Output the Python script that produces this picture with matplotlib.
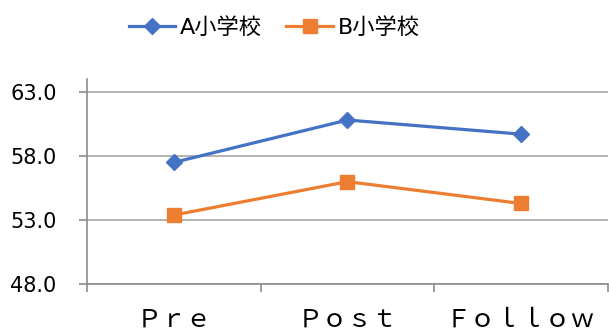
import matplotlib
matplotlib.use('Agg')
import matplotlib.pyplot as plt

plt.rcParams['font.family'] = ['Noto Sans CJK JP', 'DejaVu Sans']

# scores by phase for each school
phases = ['Ｐｒｅ', 'Ｐｏｓｔ', 'Ｆｏｌｌｏｗ']
school_a = [57.5, 60.8, 59.7]
school_b = [53.4, 56.0, 54.3]
y_ticks = [48.0, 53.0, 58.0, 63.0]

fig = plt.figure(figsize=(6.09, 3.33), dpi=100)
ax = fig.add_axes([0.143, 0.146, 0.855, 0.617])

x = list(range(len(phases)))
ax.plot(x, school_a, color='#4472C4', lw=2.3, marker='D', ms=8.5,
        label='A小学校', zorder=3)
ax.plot(x, school_b, color='#ED7D31', lw=2.3, marker='s', ms=9.5,
        label='B小学校', zorder=3)

ax.set_xlim(-0.5, len(phases) - 0.5)
ax.set_ylim(48, 64)
ax.set_yticks(y_ticks)
ax.set_yticklabels([f'{v:.1f}' for v in y_ticks], fontsize=15,
                   family='DejaVu Sans')
ax.set_xticks(x)
ax.set_xticklabels(phases, fontsize=18)
ax.set_xticks([i - 0.5 for i in range(len(phases) + 1)], minor=True)

ax.tick_params(axis='x', which='major', length=0, pad=16)
ax.tick_params(axis='x', which='minor', length=6, width=1.2, color='#8c8c8c')
ax.tick_params(axis='y', length=6, width=1.2, color='#8c8c8c', pad=16)

for t in ax.xaxis.get_minorticklines():
    t.set_clip_on(False)

ax.grid(axis='y', color='#a6a6a6', lw=1.2)
ax.set_axisbelow(True)
for s in ['top', 'right']:
    ax.spines[s].set_visible(False)
for s in ['left', 'bottom']:
    ax.spines[s].set_color('#8c8c8c')
    ax.spines[s].set_linewidth(1.2)

fig.legend(loc='center', bbox_to_anchor=(0.45, 0.918), ncol=2, frameon=False,
           prop={'family': ['DejaVu Sans', 'Noto Sans CJK JP'], 'size': 16},
           handlelength=2.1, handletextpad=0.2, columnspacing=1.1)

fig.savefig('out.png', dpi=100)
